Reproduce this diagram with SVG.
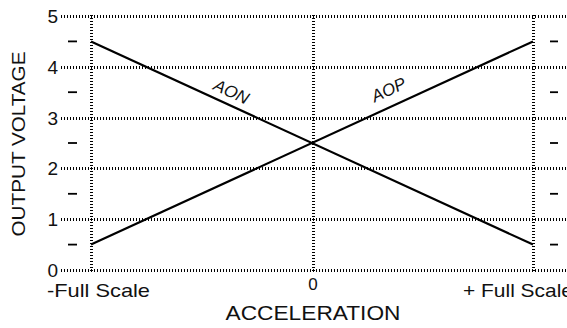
<svg xmlns="http://www.w3.org/2000/svg" width="567" height="328" viewBox="0 0 567 328">
<style>
.grid{stroke:#000;stroke-width:3;stroke-dasharray:1 2;fill:none;shape-rendering:crispEdges}
.vgrid{stroke:#000;stroke-width:3;stroke-dasharray:1 2;fill:none;shape-rendering:crispEdges}
.cgrid{stroke:#000;stroke-width:3;stroke-dasharray:1 2;fill:none;shape-rendering:crispEdges}
.tick{stroke:#000;stroke-width:1.8;fill:none}
.curve{stroke:#000;stroke-width:2.2;fill:none}
.lab{font-family:"Liberation Sans",Arial,sans-serif;fill:#111}
.num{font-size:19px;text-anchor:end}
.cur{font-size:17px;font-style:italic;text-anchor:middle}
</style>
<rect width="567" height="328" fill="#fff"/>
<g id="grid">
<line class="grid" x1="61" y1="16" x2="567" y2="16"/>
<line class="grid" x1="61" y1="67" x2="567" y2="67"/>
<line class="grid" x1="61" y1="118" x2="567" y2="118"/>
<line class="grid" x1="61" y1="168" x2="567" y2="168"/>
<line class="grid" x1="61" y1="219" x2="567" y2="219"/>
<line class="grid" x1="61" y1="270" x2="567" y2="270"/>
<line class="vgrid" x1="91" y1="15" x2="91" y2="272"/>
<line class="cgrid" x1="313" y1="15" x2="313" y2="272"/>
<line class="vgrid" x1="533" y1="15" x2="533" y2="272"/>
</g>
<g id="ticks">
<line class="tick" x1="68" y1="41.4" x2="77" y2="41.4"/>
<line class="tick" x1="68" y1="92.2" x2="77" y2="92.2"/>
<line class="tick" x1="68" y1="143" x2="77" y2="143"/>
<line class="tick" x1="68" y1="193.8" x2="77" y2="193.8"/>
<line class="tick" x1="68" y1="244.6" x2="77" y2="244.6"/>
<line class="tick" x1="550" y1="41.4" x2="558" y2="41.4"/>
<line class="tick" x1="550" y1="92.2" x2="558" y2="92.2"/>
<line class="tick" x1="550" y1="143" x2="558" y2="143"/>
<line class="tick" x1="550" y1="193.8" x2="558" y2="193.8"/>
<line class="tick" x1="550" y1="244.6" x2="558" y2="244.6"/>
</g>
<g id="connectors">
<line id="aon-line" class="curve" x1="91" y1="41.4" x2="533" y2="244.6"/>
<line id="aop-line" class="curve" x1="91" y1="244.6" x2="533" y2="41.4"/>
</g>
<g id="aon"><text class="lab cur" transform="translate(229,97) rotate(24.7)">AON</text></g>
<g id="aop"><text class="lab cur" transform="translate(391,95) rotate(-24.7)">AOP</text></g>
<g id="yticks">
<text class="lab num" x="58" y="23">5</text>
<text class="lab num" x="58" y="73.8">4</text>
<text class="lab num" x="58" y="124.6">3</text>
<text class="lab num" x="58" y="175.4">2</text>
<text class="lab num" x="58" y="226.2">1</text>
<text class="lab num" x="58" y="277">0</text>
</g>
<g id="xticks">
<text class="lab" x="47" y="297" font-size="19" textLength="103" lengthAdjust="spacingAndGlyphs">-Full Scale</text>
<text class="lab" x="313" y="290" font-size="17" text-anchor="middle">0</text>
<text class="lab" x="463" y="297" font-size="19" textLength="110" lengthAdjust="spacingAndGlyphs">+ Full Scale</text>
</g>
<g id="xaxis"><text class="lab" x="313" y="320" font-size="21" text-anchor="middle" textLength="175" lengthAdjust="spacingAndGlyphs">ACCELERATION</text></g>
<g id="yaxis"><text class="lab" transform="translate(25,144) rotate(-90)" font-size="19" text-anchor="middle" textLength="185" lengthAdjust="spacingAndGlyphs">OUTPUT VOLTAGE</text></g>
</svg>
